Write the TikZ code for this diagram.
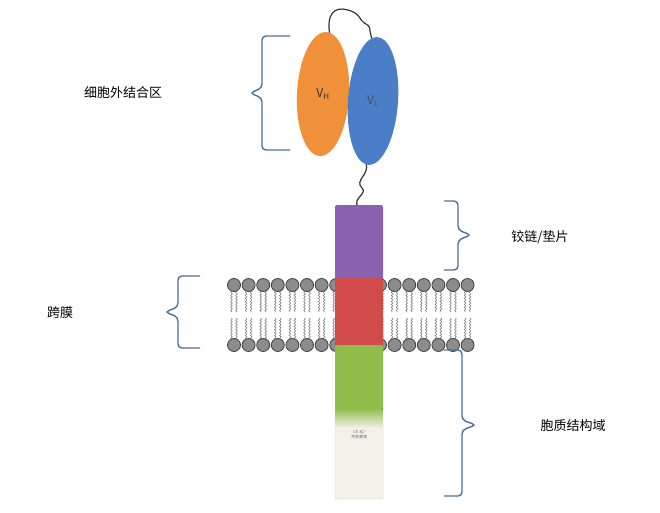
\documentclass[tikz,border=0pt]{standalone}
\usepackage{fontspec}
\setmainfont{Noto Sans CJK SC}
\usetikzlibrary{positioning,decorations.pathmorphing,shapes.geometric}
\definecolor{vhorange}{HTML}{F0913A}
\definecolor{vlblue}{HTML}{4A7FC8}
\definecolor{hingepurple}{HTML}{8B62B2}
\definecolor{tmred}{HTML}{D24B4B}
\definecolor{cytogreen}{HTML}{8FBC4A}
\definecolor{tailcream}{HTML}{F4F2E8}
\definecolor{bracecol}{HTML}{4D6E9E}
\tikzset{
  brace/.style={bracecol,line width=1.4pt,rounded corners=4pt},
  lbl/.style={fill=white,rounded corners=3pt,inner xsep=12pt,inner ysep=4pt,font=\fontsize{13}{15}\selectfont},
  head/.style={circle,draw=black!75,fill=black!45,minimum size=13pt,inner sep=0pt,line width=0.8pt},
  tail/.style={black!50,line width=0.6pt,decorate,decoration={snake,amplitude=0.8pt,segment length=3pt}},
  block/.style={rounded corners=2pt,minimum width=48pt,inner sep=0pt}
}
\begin{document}
\begin{tikzpicture}[x=1pt,y=-1pt]
\useasboundingbox (0,0) rectangle (660,513);

% Linkers
\draw[black!80,line width=1.2pt] (330,36) .. controls (326,14) and (334,6) .. (348,10)
  .. controls (362,14) and (358,20) .. (366,24) .. controls (374,28) and (366,36) .. (376,42);
\draw[black!80,line width=1.2pt] (366,163) .. controls (370,175) and (354,180) .. (362,188)
  .. controls (368,194) and (352,198) .. (358,207);

% Membrane
\foreach \i in {0,...,16} {
  \pgfmathsetmacro{\xx}{234+\i*14.6}
  \draw[tail] (\xx-2.5,290) -- (\xx-2.5,312);
  \draw[tail] (\xx+2.5,290) -- (\xx+2.5,312);
  \draw[tail] (\xx-2.5,318) -- (\xx-2.5,340);
  \draw[tail] (\xx+2.5,318) -- (\xx+2.5,340);
  \node[head] (top\i) at (\xx,285) {};
  \node[head] (bot\i) at (\xx,345) {};
}

% Receptor blocks
\node[block,fill=hingepurple,minimum height=76pt] (hinge) at (359,243) {};
\node[block,fill=tmred,minimum height=68pt] (tm) at (359,312) {};
\node[block,fill=cytogreen,minimum height=70pt] (cyto) at (359,380) {};
\node[block,draw=black!20,fill=tailcream,minimum height=84pt,
      align=center,font=\fontsize{4}{5}\selectfont,text=black!60] (tail) at (359,457) {CD 3ζ/\\共刺激域\\[40pt]};
\fill[top color=cytogreen,bottom color=tailcream] (335.5,408) rectangle (382.5,428);

% scFv domains
\node[ellipse,fill=vhorange,minimum width=52pt,minimum height=124pt,rotate=-3] (vh) at (323,94) {};
\node[ellipse,fill=vlblue,minimum width=50pt,minimum height=128pt,rotate=-4] (vl) at (373,101) {};
\node[text=black!80,font=\large] at (vh) {V\textsubscript{H}};
\node[text=black!70,font=\large] at (vl) {V\textsubscript{L}};

% Braces
\draw[brace] (290,36) -- (262,36) -- (262,88) -- (250,93) -- (262,98) -- (262,150) -- (290,150);
\draw[brace] (200,276) -- (178,276) -- (178,307) -- (165,312) -- (178,317) -- (178,348) -- (200,348);
\draw[brace] (444,201) -- (458,201) -- (458,230) -- (471,235) -- (458,240) -- (458,270) -- (444,270);
\draw[brace] (444,350) -- (462,350) -- (462,420) -- (476,425) -- (462,430) -- (462,496) -- (444,496);

% Labels
\node[lbl] (extra) at (123,93) {细胞外结合区};
\node[lbl] (trans) at (60,313) {跨膜};
\node[lbl] (hingelbl) at (540,237) {铰链/垫片};
\node[lbl] (cytolbl) at (573,426) {胞质结构域};
\end{tikzpicture}
\end{document}
